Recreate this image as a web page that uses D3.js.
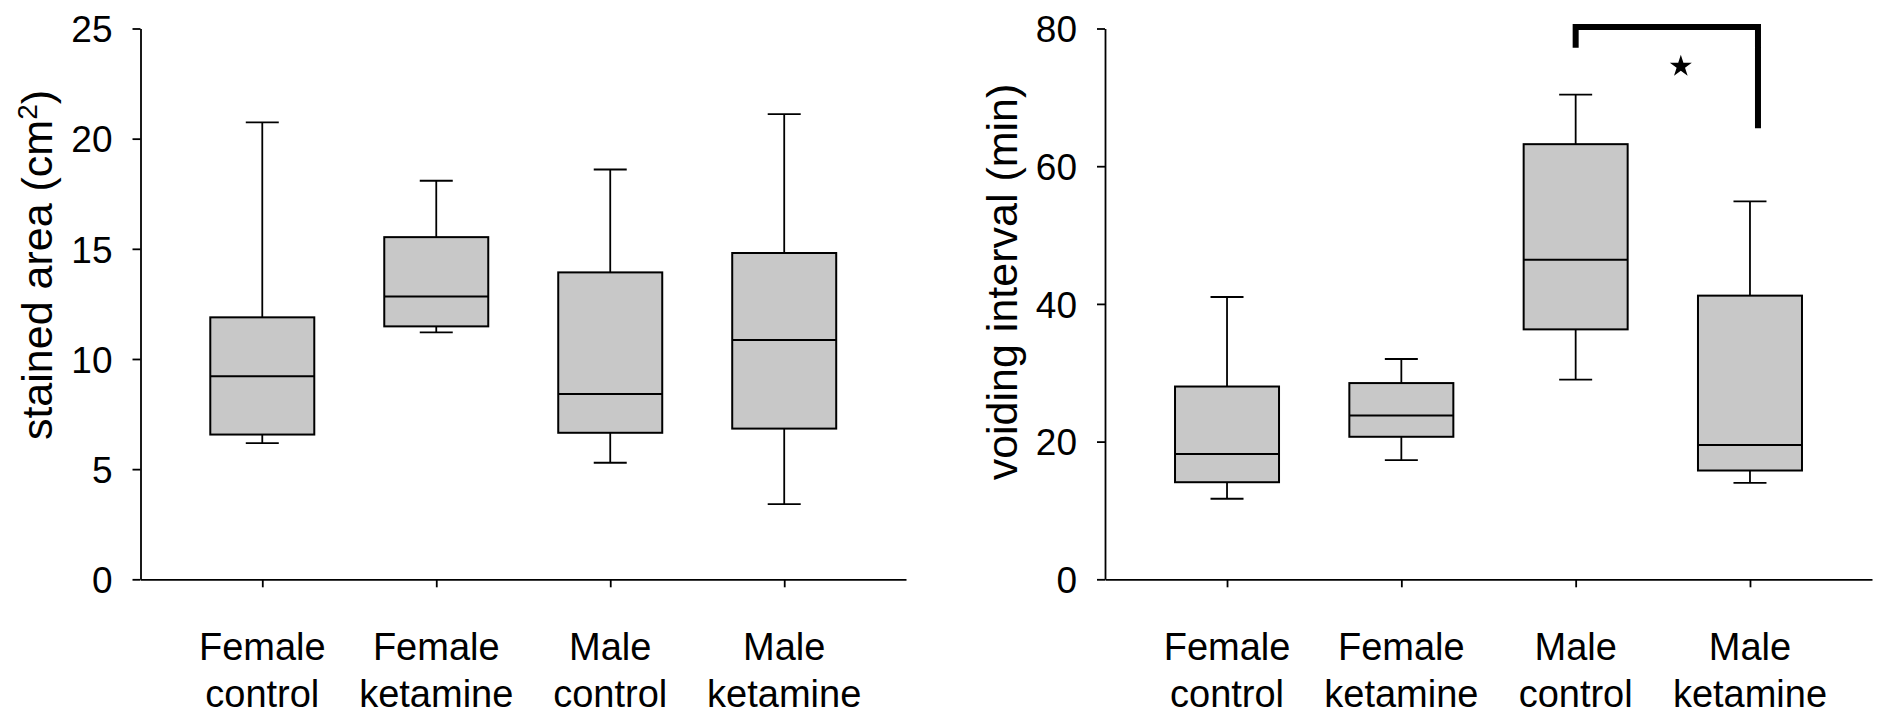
<!DOCTYPE html>
<html>
<head>
<meta charset="utf-8">
<script src="https://cdn.jsdelivr.net/npm/d3@7/dist/d3.min.js"></script>
<style>
  html, body { margin: 0; padding: 0; background: #fff; }
  svg { display: block; }
  text { font-family: "Liberation Sans", Arial, Helvetica, sans-serif; fill: #000; }
</style>
</head>
<body>
<svg id="chart" width="1890" height="725"></svg>
<script>
// ---------- data ----------
const categories = ["Female control", "Female ketamine", "Male control", "Male ketamine"];

// Panel A: stained area (cm²)
const stainedMin    = [6.18, 11.21, 5.29, 3.41];
const stainedQ1     = [6.57, 11.48, 6.65, 6.84];
const stainedMedian = [9.22, 12.84, 8.41, 10.86];
const stainedQ3     = [11.89, 15.53, 13.93, 14.81];
const stainedMax    = [20.74, 18.09, 18.60, 21.11];
const stainedTicks  = [0, 5, 10, 15, 20, 25];

// Panel B: voiding interval (min)
const voidingMin    = [11.7, 17.3, 29.0, 14.0];
const voidingQ1     = [14.1, 20.7, 36.3, 15.8];
const voidingMedian = [18.2, 23.8, 46.4, 19.5];
const voidingQ3     = [28.0, 28.5, 63.2, 41.2];
const voidingMax    = [41.0, 32.0, 70.4, 54.9];
const voidingTicks  = [0, 20, 40, 60, 80];

// significance bracket (Male control vs Male ketamine), in data units
const sigPair   = ["Male control", "Male ketamine"];
const sigTop    = 80.2;
const sigLeftEnd  = 77.2;
const sigRightEnd = 65.5;
const sigStarY  = 74.5;

// ---------- layout ----------
const svg = d3.select("#chart");
const plotTop = 28.5, plotBottom = 579.3;
const boxW = 104, capW = 33;
const fill = "#c8c8c8";

function panel(opts) {
  const g = svg.append("g");
  const x = d3.scalePoint().domain(categories).range([opts.x0, opts.x1]).padding(0.7);
  const y = d3.scaleLinear().domain([0, opts.yMax]).range([plotBottom, plotTop]);

  const data = categories.map((c, i) => ({
    c, min: opts.min[i], q1: opts.q1[i], med: opts.med[i], q3: opts.q3[i], max: opts.max[i]
  }));

  // axes
  const yAxis = d3.axisLeft(y).tickValues(opts.ticks).tickSize(8).tickSizeOuter(0).tickPadding(20);
  const ya = g.append("g").attr("transform", `translate(${opts.x0},0)`).call(yAxis);
  ya.selectAll("text").style("font-size", "37px").attr("dy", "0.36em");
  ya.selectAll("line, path").attr("stroke", "#000").attr("stroke-width", 1.8);

  const xAxis = d3.axisBottom(x).tickSize(8).tickSizeOuter(0).tickFormat("");
  const xa = g.append("g").attr("transform", `translate(0,${plotBottom})`).call(xAxis);
  xa.selectAll("line, path").attr("stroke", "#000").attr("stroke-width", 1.8);

  // category labels (two lines)
  const lab = g.append("g").selectAll("text").data(categories).join("text")
    .attr("text-anchor", "middle")
    .style("font-size", "38px")
    .attr("transform", d => `translate(${x(d)},0)`);
  lab.each(function(d) {
    const parts = d.split(" ");
    const t = d3.select(this);
    t.append("tspan").attr("x", 0).attr("y", 660).text(parts[0]);
    t.append("tspan").attr("x", 0).attr("y", 707).text(parts[1]);
  });

  // boxes
  const b = g.append("g").selectAll("g").data(data).join("g");
  b.append("line").attr("x1", d => x(d.c)).attr("x2", d => x(d.c))
    .attr("y1", d => y(d.max)).attr("y2", d => y(d.q3))
    .attr("stroke", "#000").attr("stroke-width", 1.8);
  b.append("line").attr("x1", d => x(d.c)).attr("x2", d => x(d.c))
    .attr("y1", d => y(d.q1)).attr("y2", d => y(d.min))
    .attr("stroke", "#000").attr("stroke-width", 1.8);
  b.append("line").attr("x1", d => x(d.c) - capW / 2).attr("x2", d => x(d.c) + capW / 2)
    .attr("y1", d => y(d.max)).attr("y2", d => y(d.max))
    .attr("stroke", "#000").attr("stroke-width", 1.8);
  b.append("line").attr("x1", d => x(d.c) - capW / 2).attr("x2", d => x(d.c) + capW / 2)
    .attr("y1", d => y(d.min)).attr("y2", d => y(d.min))
    .attr("stroke", "#000").attr("stroke-width", 1.8);
  b.append("rect").attr("x", d => x(d.c) - boxW / 2).attr("width", boxW)
    .attr("y", d => y(d.q3)).attr("height", d => y(d.q1) - y(d.q3))
    .attr("fill", fill).attr("stroke", "#000").attr("stroke-width", 2);
  b.append("line").attr("x1", d => x(d.c) - boxW / 2).attr("x2", d => x(d.c) + boxW / 2)
    .attr("y1", d => y(d.med)).attr("y2", d => y(d.med))
    .attr("stroke", "#000").attr("stroke-width", 2);

  // y title
  const tt = g.append("text")
    .attr("transform", `translate(${opts.titleX},${opts.titleY}) rotate(-90)`)
    .attr("text-anchor", "middle")
    .style("font-size", "43px");
  opts.title(tt);

  return { g, x, y };
}

panel({
  x0: 140.5, x1: 906, yMax: 25, ticks: stainedTicks,
  min: stainedMin, q1: stainedQ1, med: stainedMedian, q3: stainedQ3, max: stainedMax,
  titleX: 52, titleY: 265,
  title: t => {
    t.append("tspan").text("stained area (cm");
    t.append("tspan").attr("baseline-shift", "super").style("font-size", "28px").text("2");
    t.append("tspan").text(")");
  }
});

const pB = panel({
  x0: 1105, x1: 1872, yMax: 80, ticks: voidingTicks,
  min: voidingMin, q1: voidingQ1, med: voidingMedian, q3: voidingQ3, max: voidingMax,
  titleX: 1017, titleY: 282,
  title: t => t.text("voiding interval (min)")
});

// significance bracket
const xl = pB.x(sigPair[0]), xr = pB.x(sigPair[1]) + 8;
pB.g.append("path")
  .attr("d", d3.line()([[xl, pB.y(sigLeftEnd)], [xl, pB.y(sigTop)], [xr, pB.y(sigTop)], [xr, pB.y(sigRightEnd)]]))
  .attr("fill", "none").attr("stroke", "#000").attr("stroke-width", 6)
  .attr("stroke-linejoin", "miter").attr("stroke-linecap", "butt");
pB.g.append("path")
  .attr("d", d3.symbol().type(d3.symbolStar).size(150)())
  .attr("transform", `translate(${(xl + xr) / 2 + 14},${pB.y(sigStarY)})`)
  .attr("fill", "#000");
</script>
</body>
</html>
